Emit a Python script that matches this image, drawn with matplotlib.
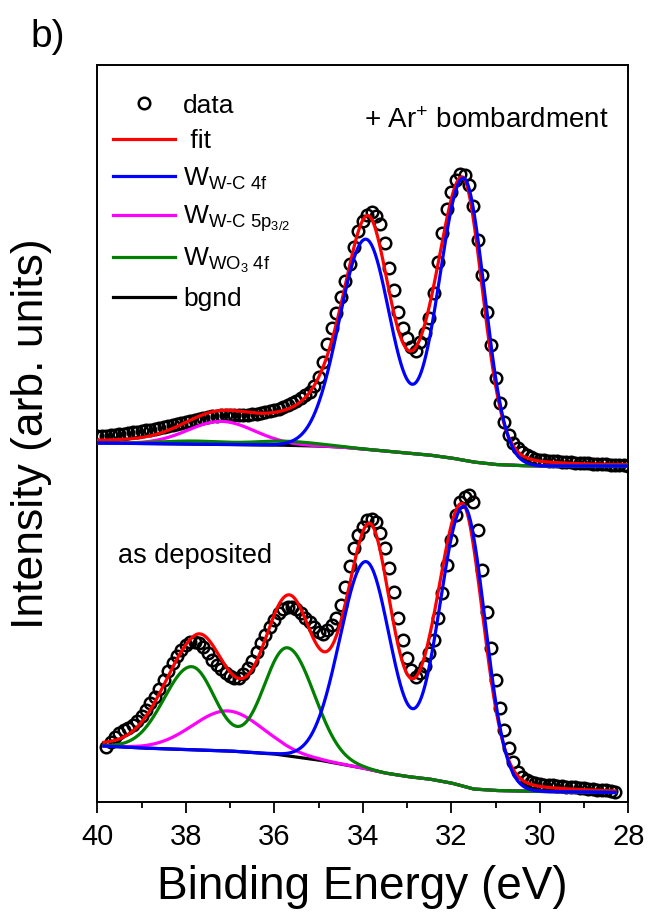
import numpy as np
import matplotlib
matplotlib.use('Agg')
import matplotlib.pyplot as plt
from matplotlib.lines import Line2D

plt.rcParams['font.family'] = ['Liberation Sans', 'DejaVu Sans']
plt.rcParams['mathtext.fontset'] = 'custom'
plt.rcParams['mathtext.rm'] = 'Liberation Sans'
plt.rcParams['mathtext.it'] = 'Liberation Sans:italic'
plt.rcParams['mathtext.bf'] = 'Liberation Sans:bold'
plt.rcParams['mathtext.default'] = 'regular'

# ---------------- measured data (arb. units), 0.1 eV steps ----------------
# + Ar+ bombardment spectrum, 40.0 -> 28.0 eV
top_start = 40.0
top_data = [
    364, 364, 364.5, 365, 365.5, 366, 366.5, 367, 368, 368.5,
    369, 370, 370.5, 371.5, 372.5, 373, 374, 375, 376, 377,
    378, 379, 380, 381, 382, 383, 384, 384.5, 385, 385.5,
    385.5, 385.5, 385.5, 385.5, 385.5, 386, 386.5, 387, 388, 389,
    390, 391.5, 393, 395, 397, 399.5, 402, 405, 408, 414,
    423, 438, 456, 472, 487, 503, 519, 536, 553, 569,
    579, 585, 588, 584, 576, 557, 532, 510, 488, 472,
    462, 453, 449, 458, 467, 482, 507, 538, 567, 591,
    608, 620, 626, 625, 615, 594, 560, 525, 488, 455,
    422, 397, 378, 365, 357, 352, 348, 345, 343, 341.5,
    340.5, 340, 339.5, 339, 339, 338.5, 338, 338, 337.5, 337.5,
    337, 337, 336.5, 336.5, 336, 336, 335.5, 335.5, 335, 335,
    334.5]

# as deposited spectrum, 39.8 -> 28.3 eV
bot_start = 39.8
bot_data = [
    53, 58, 63, 67, 70, 72, 75, 79, 84, 90,
    97, 103, 111, 120, 129, 137, 144, 150, 155, 158,
    158.5, 157, 153, 147, 140, 135, 131, 127, 124, 122.5,
    122, 126, 132, 139, 148, 157, 165, 173, 180, 187,
    191, 193.5, 193.5, 191, 187, 182.5, 178, 173, 168, 166,
    170, 175, 182, 195, 213, 234, 252, 265, 273, 280,
    281.5, 278, 267, 252, 232, 208, 182, 160, 142, 130,
    123.5, 127, 134, 147, 160, 182, 207, 235, 260, 285,
    298, 303, 305, 298, 270, 230, 188, 152, 120, 92,
    70, 52, 38, 28, 23, 20, 18, 17, 16, 15.5,
    15, 15, 14.5, 14, 13.5, 13, 13, 12.5, 12, 11.5,
    11, 10.5, 10, 10, 9.5, 8.5]

# ---------------- backgrounds (Shirley-like) ----------------
bg_top_E = [40, 39, 38, 37, 36, 35, 34.5, 34, 33.5, 33, 32.5, 32, 31.5, 31, 30.5, 30, 29, 28]
bg_top_I = [357, 356.5, 356, 355.5, 355, 354, 353, 351, 349, 347, 345, 342, 338, 335.5, 334.5, 334, 334, 334]
bg_bot_E = [39.85, 39, 38, 37, 36, 35.5, 35, 34.5, 34, 33.5, 33, 32.5, 32, 31.5, 31, 30, 29, 28.3]
bg_bot_I = [54, 52, 50.5, 49, 46, 43, 40, 36, 32, 27, 23.5, 21, 17, 11, 9.5, 8.5, 8, 7.5]

# ---------------- fitted peak parameters ----------------
# columns: centre (eV), height, sigma high-BE side, sigma low-BE side, lorentz frac high, lorentz frac low
top_wc = [[31.72, 282, 0.56, 0.47, 0, 0], [33.93, 210, 0.60, 0.56, 0, 0]]
top_5p = [[37.20, 23, 0.75, 0.75, 0, 0]]
top_wo3 = [[37.85, 3, 0.70, 0.70, 0, 0], [35.75, 4, 0.70, 0.70, 0, 0]]
top_fit = [[31.75, 280, 0.63, 0.46, 0.5, 0.15], [33.90, 218, 0.60, 0.50, 0.6, 0.2],
           [37.20, 23, 0.75, 0.75, 0, 0], [37.85, 3, 0.70, 0.70, 0, 0], [35.60, 10, 0.70, 0.70, 0, 0]]

bot_wc = [[31.71, 280, 0.56, 0.47, 0, 0], [33.92, 207, 0.60, 0.56, 0, 0]]
bot_5p = [[37.05, 40, 0.80, 0.80, 0, 0]]
bot_wo3 = [[37.87, 83, 0.62, 0.54, 0, 0], [35.70, 108, 0.54, 0.60, 0, 0]]
bot_fit = [[31.75, 279, 0.60, 0.47, 0.3, 0.15], [33.85, 237, 0.58, 0.50, 0.5, 0.2],
           [37.80, 84, 0.72, 0.53, 0, 0], [35.66, 134, 0.53, 0.52, 0, 0],
           [37.05, 40, 0.80, 0.80, 0, 0]]


def peak(E, c, h, s_hi, s_lo, eta_hi, eta_lo):
    d = E - c
    hi = d > 0
    s = np.where(hi, s_hi, s_lo)
    eta = np.where(hi, eta_hi, eta_lo)
    g = np.exp(-d ** 2 / (2 * s ** 2))
    gam = s * np.sqrt(2 * np.log(2))
    lor = 1.0 / (1.0 + (d / gam) ** 2)
    return h * ((1 - eta) * g + eta * lor)


def model(E, bg, params):
    y = bg.copy()
    for p in params:
        y = y + peak(E, *p)
    return y


E_top = np.round(top_start - 0.1 * np.arange(len(top_data)), 1)
E_bot = np.round(bot_start - 0.1 * np.arange(len(bot_data)), 1)

Et = np.linspace(40.0, 28.0, 1201)
Eb = np.linspace(39.85, 28.3, 1156)
bgt = np.interp(Et, bg_top_E[::-1], bg_top_I[::-1])
bgb = np.interp(Eb, bg_bot_E[::-1], bg_bot_I[::-1])

fig = plt.figure(figsize=(6.48, 9.23), dpi=100)
ax = fig.add_axes([97.3 / 648, (923 - 802) / 923, 531 / 648, 737.5 / 923])

lw = 2.3
ms = 8.3
mew = 1.8
for E, I in ((E_top, top_data), (E_bot, bot_data)):
    ax.plot(E, I, ls='none', marker='o', ms=ms, mfc='none', mec='black', mew=mew, zorder=2)

for E, bg, fit, wc, p5, wo3 in ((Et, bgt, top_fit, top_wc, top_5p, top_wo3),
                               (Eb, bgb, bot_fit, bot_wc, bot_5p, bot_wo3)):
    ax.plot(E, model(E, bg, fit), color='#ff0000', lw=lw, zorder=3)
    ax.plot(E, bg, color='black', lw=lw, zorder=4)
    ax.plot(E, model(E, bg, p5), color='#ff00ff', lw=lw, zorder=5)
    ax.plot(E, model(E, bg, wo3), color='#008000', lw=lw, zorder=6)
    ax.plot(E, model(E, bg, wc), color='#0000ff', lw=lw, zorder=7)

ax.set_xlim(40, 28)
ax.set_ylim(-2, 735.5)
ax.set_xticks([40, 38, 36, 34, 32, 30, 28])
ax.set_xticks([39, 37, 35, 33, 31, 29], minor=True)
ax.set_yticks([])
ax.tick_params(axis='x', which='major', direction='out', length=8, width=1.3,
               labelsize=21, pad=7)
ax.tick_params(axis='x', which='minor', direction='out', length=4.5, width=1.3)
for sp in ax.spines.values():
    sp.set_linewidth(1.4)

ax.set_xlabel('Binding Energy (eV)', fontsize=33)
ax.xaxis.set_label_coords(0.5, -0.086)
ax.xaxis.label.set_va('top')
ax.set_ylabel('Intensity (arb. units)', fontsize=32)
ax.yaxis.set_label_coords(-0.085, 0.5)

handles = [
    Line2D([], [], ls='none', marker='o', ms=ms, mfc='none', mec='black', mew=mew),
    Line2D([], [], color='#ff0000', lw=lw),
    Line2D([], [], color='#0000ff', lw=lw),
    Line2D([], [], color='#ff00ff', lw=lw),
    Line2D([], [], color='#008000', lw=lw),
    Line2D([], [], color='black', lw=lw),
]
labels = ['data', ' fit', r'W$_{W\text{-}C\ 4f}$', r'W$_{W\text{-}C\ 5p_{3/2}}$',
          r'W$_{WO_3\ 4f}$', 'bgnd']
ax.legend(handles, labels, loc='upper left', bbox_to_anchor=(0.0, 0.982),
          frameon=False, fontsize=19, handlelength=2.35, handletextpad=0.3,
          labelspacing=0.45, borderaxespad=0.2)

ax.text(33.97, 679, '+ Ar$^{+}$ bombardment', fontsize=20, ha='left', va='center')
ax.text(39.53, 244, 'as deposited', fontsize=19.5, ha='left', va='center')
fig.text(30 / 648, 1 - 37 / 923, 'b)', fontsize=28, ha='left', va='center')

fig.savefig('out.png', dpi=100)
